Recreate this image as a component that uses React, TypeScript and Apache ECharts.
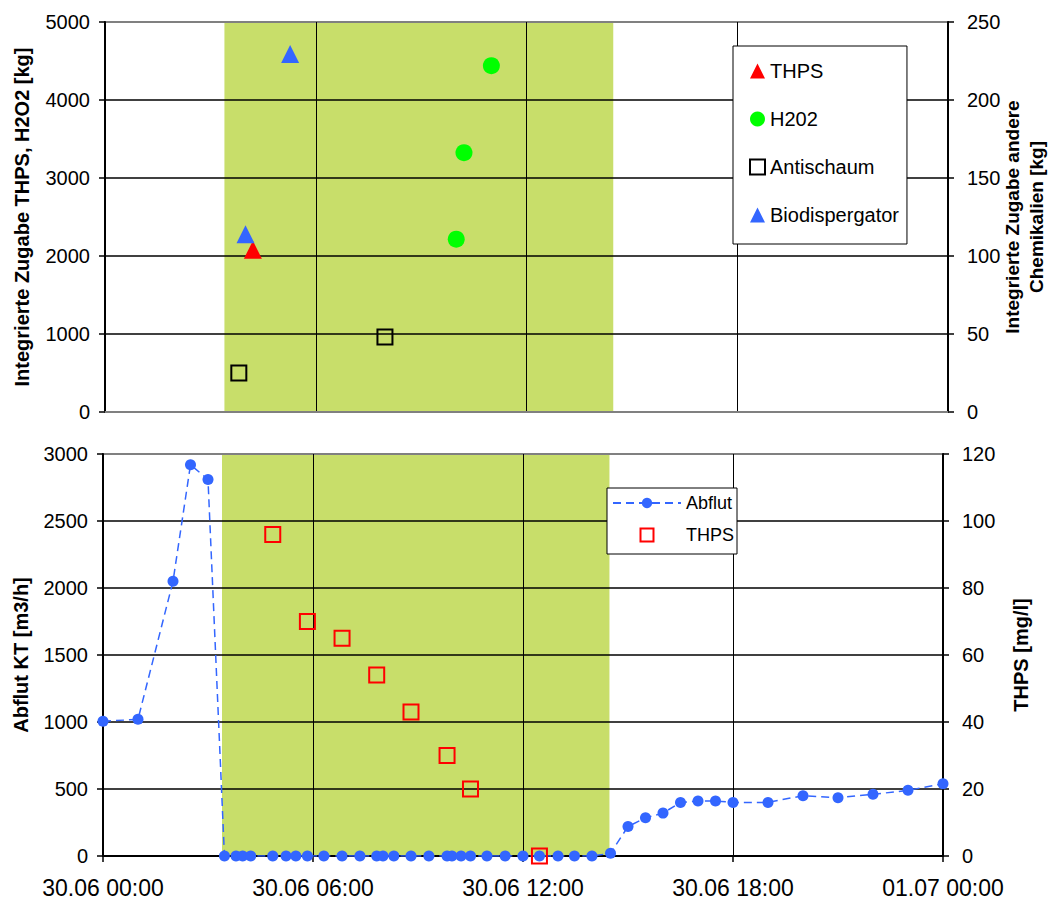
import React, { useEffect, useRef } from "react";
import * as echarts from "echarts";

// ---- data ----
const xTickLabels = ["30.06 00:00", "30.06 06:00", "30.06 12:00", "30.06 18:00", "01.07 00:00"];
const bandHours = [3.4, 14.47];

// top panel (hours since 30.06 00:00)
const thpsKgHours = [4.21];
const thpsKg = [2080];
const h2o2Hours = [10.0, 10.22, 11.0];
const h2o2Kg = [2215, 3325, 4440];
const antischaumHours = [3.81, 7.97];
const antischaumKg = [25, 48];
const biodispHours = [4.0, 5.27];
const biodispKg = [114, 229.5];

// bottom panel
const abflutHours = [
  0, 1, 2, 2.5, 3, 3.47, 3.8, 3.99, 4.22, 4.85, 5.23, 5.51, 5.84, 6.31, 6.83, 7.34, 7.82, 8.0, 8.31, 8.8,
  9.31, 9.83, 9.97, 10.23, 10.5, 10.97, 11.49, 12.0, 12.47, 13.0, 13.47, 13.97, 14.5, 15.0, 15.5, 16.0,
  16.5, 17.0, 17.5, 18.0, 19.0, 20.0, 21.0, 22.0, 23.0, 24.0,
];
const abflut = [
  1005, 1020, 2050, 2920, 2810, 0, 0, 0, 0, 0, 0, 0, 0, 0, 0, 0, 0, 0, 0, 0,
  0, 0, 0, 0, 0, 0, 0, 0, 0, 0, 0, 0, 20, 220, 285, 320,
  400, 410, 410, 400, 400, 450, 435, 460, 490, 540,
];
const thpsMgHours = [4.85, 5.84, 6.83, 7.82, 8.8, 9.83, 10.5, 12.47];
const thpsMg = [96, 70, 65, 54, 43, 30, 20, 0];

const zip = (xs: number[], ys: number[]) => xs.map((x, i) => [x, ys[i]]);

const FONT = "'Liberation Sans', Arial, sans-serif";
const BAND = "#C8DE6A";
const BLUE = "#3366FF";
const SQUARE_ICON = "path://M0 0H10V10H0Z";

const plain = (v: number) => String(v);

const yAxisBase = (extra: any) => ({
  type: "value",
  z: 2,
  axisLine: { show: true, lineStyle: { color: "#000", width: 2 } },
  axisTick: { show: true, length: 6, lineStyle: { color: "#000", width: 1.5 } },
  axisLabel: { color: "#000", fontSize: 20, fontFamily: FONT, margin: 15, formatter: plain },
  splitLine: { show: false },
  nameLocation: "middle",
  nameRotate: 90,
  nameMoveOverlap: false,
  nameTextStyle: { color: "#000", fontSize: 20, fontWeight: "bold", fontFamily: FONT },
  ...extra,
});

const xAxisBase = (extra: any) => ({
  type: "value",
  min: 0,
  max: 24,
  interval: 6,
  z: 2,
  splitLine: {
    show: true,
    showMinLine: false,
    showMaxLine: false,
    lineStyle: { color: "#000", width: 1 },
  },
  ...extra,
});

export default function App() {
  const ref = useRef<HTMLDivElement>(null);
  useEffect(() => {
    document.body.style.margin = "0";
    const chart = echarts.init(ref.current!, undefined, { renderer: "svg" });
    const option: any = {
      animation: false,
      backgroundColor: "#fff",
      textStyle: { fontFamily: FONT },
      grid: [
        {
          left: 105, top: 22, width: 843, height: 390, show: true, z: 2,
          backgroundColor: "transparent", borderColor: "#808080", borderWidth: 2,
          outerBoundsMode: "none", containLabel: false,
        },
        {
          left: 103, top: 454, width: 840, height: 402, show: true, z: 2,
          backgroundColor: "transparent", borderColor: "#808080", borderWidth: 2,
          outerBoundsMode: "none", containLabel: false,
        },
      ],
      xAxis: [
        xAxisBase({
          gridIndex: 0,
          axisLine: { show: true, lineStyle: { color: "#808080", width: 2 } },
          axisTick: { show: false },
          axisLabel: { show: false },
        }),
        xAxisBase({
          gridIndex: 1,
          axisLine: { show: true, lineStyle: { color: "#000", width: 2 } },
          axisTick: { show: true, length: 6, lineStyle: { color: "#000", width: 1.5 } },
          axisLabel: {
            color: "#000",
            fontSize: 23,
            fontFamily: FONT,
            margin: 20,
            formatter: (v: number) => xTickLabels[Math.round(v / 6)] ?? "",
          },
        }),
      ],
      yAxis: [
        yAxisBase({
          gridIndex: 0,
          position: "left",
          min: 0,
          max: 5000,
          interval: 1000,
          name: "Integrierte Zugabe THPS, H2O2 [kg]",
          nameGap: 73,
          splitLine: { show: true, showMinLine: false, showMaxLine: false, lineStyle: { color: "#000", width: 1.5 } },
        }),
        yAxisBase({
          gridIndex: 0,
          position: "right",
          min: 0,
          max: 250,
          interval: 50,
          axisLabel: { color: "#000", fontSize: 20, fontFamily: FONT, margin: 19, formatter: plain },
          name: "Integrierte Zugabe andere\nChemikalien [kg]",
          nameGap: 52,
          nameTextStyle: { color: "#000", fontSize: 19, fontWeight: "bold", fontFamily: FONT, lineHeight: 24 },
        }),
        yAxisBase({
          gridIndex: 1,
          position: "left",
          min: 0,
          max: 3000,
          interval: 500,
          name: "Abflut KT [m3/h]",
          nameGap: 72,
          splitLine: { show: true, showMinLine: false, showMaxLine: false, lineStyle: { color: "#000", width: 1.5 } },
        }),
        yAxisBase({
          gridIndex: 1,
          position: "right",
          min: 0,
          max: 120,
          interval: 20,
          axisLabel: { color: "#000", fontSize: 20, fontFamily: FONT, margin: 19, formatter: plain },
          name: "THPS [mg/l]",
          nameGap: 68,
        }),
      ],
      legend: [
        {
          orient: "vertical",
          left: 733,
          top: 46,
          padding: [15, 8, 19, 16],
          itemGap: 28,
          itemWidth: 15,
          itemHeight: 15,
          selectedMode: false,
          backgroundColor: "#fff",
          borderColor: "#000",
          borderWidth: 1,
          borderRadius: 0,
          textStyle: { color: "#000", fontSize: 20, fontFamily: FONT },
          data: [
            { name: "THPS" },
            { name: "H202" },
            { name: "Antischaum", icon: SQUARE_ICON },
            { name: "Biodispergator" },
          ],
        },
        {
          orient: "vertical",
          left: 607,
          top: 488,
          padding: [6, 3, 10, 5],
          itemGap: 14,
          itemWidth: 68,
          itemHeight: 13,
          selectedMode: false,
          symbolKeepAspect: true,
          backgroundColor: "#fff",
          borderColor: "#000",
          borderWidth: 1,
          borderRadius: 0,
          textStyle: { color: "#000", fontSize: 18, fontFamily: FONT },
          formatter: (n: string) => (n === "THPS_mg" ? "THPS" : n),
          data: [{ name: "Abflut" }, { name: "THPS_mg", icon: SQUARE_ICON }],
        },
      ],
      series: [
        {
          name: "band0",
          type: "line",
          xAxisIndex: 0,
          yAxisIndex: 0,
          z: 1,
          data: [],
          markArea: {
            silent: true,
            itemStyle: { color: BAND, opacity: 1 },
            data: [[{ xAxis: bandHours[0] }, { xAxis: bandHours[1] }]],
          },
        },
        {
          name: "band1",
          type: "line",
          xAxisIndex: 1,
          yAxisIndex: 2,
          z: 1,
          data: [],
          markArea: {
            silent: true,
            itemStyle: { color: BAND, opacity: 1 },
            data: [[{ xAxis: bandHours[0] }, { xAxis: bandHours[1] }]],
          },
        },
        {
          name: "THPS",
          type: "scatter",
          xAxisIndex: 0,
          yAxisIndex: 0,
          z: 3,
          symbol: "triangle",
          symbolSize: 18,
          itemStyle: { color: "#FF0000", opacity: 1 },
          data: zip(thpsKgHours, thpsKg),
        },
        {
          name: "H202",
          type: "scatter",
          xAxisIndex: 0,
          yAxisIndex: 0,
          z: 3,
          symbol: "circle",
          symbolSize: 17,
          itemStyle: { color: "#00FF00", opacity: 1 },
          data: zip(h2o2Hours, h2o2Kg),
        },
        {
          name: "Antischaum",
          type: "scatter",
          xAxisIndex: 0,
          yAxisIndex: 1,
          z: 3,
          symbol: "rect",
          symbolSize: 15,
          itemStyle: { color: "rgba(0,0,0,0)", borderColor: "#000", borderWidth: 2, opacity: 1 },
          data: zip(antischaumHours, antischaumKg),
        },
        {
          name: "Biodispergator",
          type: "scatter",
          xAxisIndex: 0,
          yAxisIndex: 1,
          z: 3,
          symbol: "triangle",
          symbolSize: 18,
          itemStyle: { color: BLUE, opacity: 1 },
          data: zip(biodispHours, biodispKg),
        },
        {
          name: "Abflut",
          type: "line",
          xAxisIndex: 1,
          yAxisIndex: 2,
          z: 3,
          symbol: "circle",
          symbolSize: 11,
          showSymbol: true,
          showAllSymbol: true,
          lineStyle: { color: BLUE, width: 1.5, type: [8, 5] },
          itemStyle: { color: BLUE, opacity: 1 },
          data: zip(abflutHours, abflut),
        },
        {
          name: "THPS_mg",
          type: "scatter",
          xAxisIndex: 1,
          yAxisIndex: 3,
          z: 4,
          symbol: "rect",
          symbolSize: 15,
          itemStyle: { color: "rgba(0,0,0,0)", borderColor: "#FF0000", borderWidth: 2, opacity: 1 },
          data: zip(thpsMgHours, thpsMg),
        },
      ],
    };
    chart.setOption(option);
    return () => chart.dispose();
  }, []);
  return <div ref={ref} style={{ width: 1050, height: 905 }} />;
}
